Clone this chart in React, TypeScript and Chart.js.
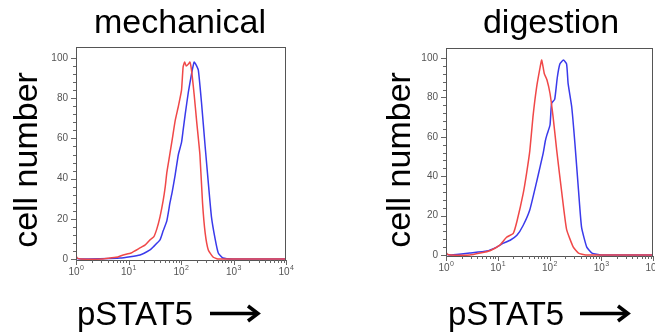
import React, { useEffect, useRef } from "react";
import { Chart, registerables } from "chart.js";

Chart.register(...registerables);

// ---------- data ----------
const X_TICKS = [1, 10, 100, 1000, 10000];
const X_TICK_BASE = "10";
const X_TICK_EXP = ["0", "1", "2", "3", "4"];
const Y_TICKS = [0, 20, 40, 60, 80, 100];

const TITLES = ["mechanical", "digestion"];
const Y_LABEL = "cell number";
const X_LABEL = "pSTAT5";

// exponents (log10 of pSTAT5 intensity) and cell-number values
const mechRedLog = [0, 0.02, 0.1, 0.5, 0.65, 0.8, 0.9, 1.05, 1.22, 1.32, 1.41, 1.48, 1.54, 1.6, 1.66, 1.7, 1.73, 1.78, 1.83, 1.89, 1.95, 2.01, 2.04, 2.07, 2.1, 2.14, 2.17, 2.2, 2.25, 2.3, 2.36, 2.41, 2.46, 2.52, 2.61, 2.7, 3, 4];
const mechRed = [2, 0.5, 0, 0, 0.5, 1, 2, 3, 5.5, 7, 9.5, 11, 15, 21, 29, 36, 43, 51, 59, 69, 76, 84, 95.5, 98, 96, 97, 98, 94, 82, 68, 52, 28, 13, 4.5, 1, 0, 0, 0];

const mechBlueLog = [0, 0.02, 0.1, 0.84, 1.22, 1.41, 1.47, 1.6, 1.66, 1.73, 1.79, 1.83, 1.89, 1.95, 2.01, 2.04, 2.08, 2.14, 2.2, 2.25, 2.28, 2.33, 2.39, 2.46, 2.52, 2.58, 2.65, 2.71, 2.8, 3, 4];
const mechBlue = [1.5, 0.3, 0, 0.5, 2, 4.5, 6, 9.5, 14, 19, 28, 33, 42, 52, 58, 64, 72, 83, 92, 98, 97, 94, 78, 56, 38, 21, 10, 3, 0.5, 0, 0];

const digRedLog = [0, 0.02, 0.1, 0.46, 0.66, 0.85, 1.04, 1.17, 1.3, 1.37, 1.49, 1.56, 1.62, 1.68, 1.75, 1.82, 1.85, 1.9, 1.95, 2.01, 2.07, 2.14, 2.24, 2.33, 2.46, 2.56, 2.7, 3, 4];
const digRed = [1.7, 0.5, 0, 0, 1, 2.2, 5, 9, 11, 17, 31, 42, 53, 70, 85, 95.5, 99, 92, 89, 82, 70, 53, 31, 13, 4, 1, 0, 0, 0];

const digBlueLog = [0, 0.02, 0.1, 0.46, 0.79, 0.98, 1.11, 1.24, 1.37, 1.49, 1.62, 1.75, 1.82, 1.88, 1.92, 1.95, 2.01, 2.04, 2.1, 2.15, 2.2, 2.27, 2.33, 2.36, 2.43, 2.49, 2.56, 2.62, 2.72, 2.82, 3, 4];
const digBlue = [1.5, 0.3, 0, 1, 2, 4, 6, 7.5, 10, 15, 23, 37, 45, 52, 58, 61, 66, 77, 79, 90, 97, 99, 97, 87, 75, 57, 33, 14, 4, 1, 0, 0];

// ---------- styles ----------
const RED = "rgb(240,72,72)";
const BLUE = "rgb(58,58,235)";
const FONT = '"Liberation Sans", Arial, sans-serif';

type Panel = {
  left: number;
  width: number;
  title: string;
  redLog: number[];
  red: number[];
  blueLog: number[];
  blue: number[];
  top: number;
  bottom: number;
  plotLeft: number;
  plotRight: number;
  yMax: number;
  titleX: number;
  yLabelX: number;
  xLabelX: number;
  arrowX1: number;
  arrowX2: number;
};

const PANELS: Panel[] = [
  {
    left: 0, width: 330, title: TITLES[0],
    redLog: mechRedLog, red: mechRed, blueLog: mechBlueLog, blue: mechBlue,
    top: 47, bottom: 260, plotLeft: 76, plotRight: 286, yMax: 105.5,
    titleX: 180, yLabelX: 37, xLabelX: 77, arrowX1: 210, arrowX2: 258,
  },
  {
    left: 330, width: 325, title: TITLES[1],
    redLog: digRedLog, red: digRed, blueLog: digBlueLog, blue: digBlue,
    top: 48, bottom: 256, plotLeft: 116, plotRight: 323, yMax: 105.1,
    titleX: 221, yLabelX: 80, xLabelX: 118, arrowX1: 250, arrowX2: 298,
  },
];

const H = 336;

function decor(p: Panel) {
  return {
    id: "decor-" + p.title,
    afterDraw(chart: any) {
      const ctx = chart.ctx as CanvasRenderingContext2D;
      const a = chart.chartArea;
      const xs = chart.scales.x;
      const ys = chart.scales.y;
      ctx.save();
      // frame
      ctx.strokeStyle = "#555";
      ctx.lineWidth = 1;
      ctx.strokeRect(Math.round(a.left) + 0.5, Math.round(a.top) + 0.5, Math.round(a.right - a.left) - 1, Math.round(a.bottom - a.top));
      // x tick marks (log minor)
      ctx.strokeStyle = "#666";
      ctx.beginPath();
      for (let k = 0; k < 4; k++) {
        for (let m = 1; m <= 9; m++) {
          const v = m * Math.pow(10, k);
          const px = Math.round(xs.getPixelForValue(v)) + 0.5;
          const len = m === 1 ? 5 : 3;
          ctx.moveTo(px, a.bottom);
          ctx.lineTo(px, a.bottom + len);
        }
      }
      const px4 = Math.round(xs.getPixelForValue(10000)) + 0.5;
      ctx.moveTo(px4, a.bottom);
      ctx.lineTo(px4, a.bottom + 5);
      // y tick marks
      for (let v = 0; v <= 100; v += 4) {
        const py = Math.round(ys.getPixelForValue(v)) + 0.5;
        const len = v % 20 === 0 ? 5 : 3;
        ctx.moveTo(a.left, py);
        ctx.lineTo(a.left - len, py);
      }
      ctx.stroke();

      // x tick labels: 10 with superscript exponent
      ctx.fillStyle = "#555";
      ctx.textBaseline = "alphabetic";
      X_TICKS.forEach((v, i) => {
        const cx = xs.getPixelForValue(v);
        ctx.font = `10px ${FONT}`;
        const wb = ctx.measureText(X_TICK_BASE).width;
        ctx.font = `7px ${FONT}`;
        const we = ctx.measureText(X_TICK_EXP[i]).width;
        const x0 = cx - (wb + we) / 2;
        ctx.font = `10px ${FONT}`;
        ctx.textAlign = "left";
        ctx.fillText(X_TICK_BASE, x0, a.bottom + 15);
        ctx.font = `7px ${FONT}`;
        ctx.fillText(X_TICK_EXP[i], x0 + wb + 0.5, a.bottom + 10);
      });

      // texts
      ctx.fillStyle = "#000";
      ctx.textAlign = "center";
      ctx.textBaseline = "alphabetic";
      ctx.font = `34px ${FONT}`;
      ctx.fillText(p.title, p.titleX, 33);

      ctx.save();
      ctx.translate(p.yLabelX, 160);
      ctx.rotate(-Math.PI / 2);
      ctx.font = `34px ${FONT}`;
      ctx.fillText(Y_LABEL, 0, 0);
      ctx.restore();

      ctx.textAlign = "left";
      ctx.font = `33px ${FONT}`;
      ctx.fillText(X_LABEL, p.xLabelX, 325);

      // arrow
      const ay = 313.5;
      ctx.strokeStyle = "#000";
      ctx.lineWidth = 3.5;
      ctx.lineCap = "butt";
      ctx.beginPath();
      ctx.moveTo(p.arrowX1, ay);
      ctx.lineTo(p.arrowX2 - 2, ay);
      ctx.stroke();
      ctx.lineJoin = "miter";
      ctx.beginPath();
      ctx.moveTo(p.arrowX2 - 10, ay - 7.5);
      ctx.lineTo(p.arrowX2, ay);
      ctx.lineTo(p.arrowX2 - 10, ay + 7.5);
      ctx.stroke();
      ctx.restore();
    },
  };
}

function makeChart(canvas: HTMLCanvasElement, p: Panel) {
  const pts = (lx: number[], ys: number[]) => lx.map((l, i) => ({ x: Math.pow(10, l), y: ys[i] }));
  return new Chart(canvas, {
    type: "scatter",
    data: {
      datasets: [
        { data: pts(p.redLog, p.red), borderColor: RED, backgroundColor: RED, showLine: true, pointRadius: 0, borderWidth: 1.5, tension: 0.15 },
        { data: pts(p.blueLog, p.blue), borderColor: BLUE, backgroundColor: BLUE, showLine: true, pointRadius: 0, borderWidth: 1.5, tension: 0.15 },
      ],
    },
    options: {
      responsive: false,
      animation: false,
      devicePixelRatio: 1,
      layout: { padding: { left: 0, top: p.top, right: p.width - p.plotRight, bottom: 0 } },
      plugins: { legend: { display: false }, tooltip: { enabled: false }, title: { display: false } },
      scales: {
        x: {
          type: "logarithmic",
          min: 1,
          max: 10000,
          grid: { display: false, drawTicks: false },
          border: { display: false },
          afterBuildTicks: (s: any) => {
            s.ticks = X_TICKS.map((v) => ({ value: v }));
          },
          afterFit: (s: any) => {
            s.height = H - p.bottom;
            s.paddingLeft = 0;
            s.paddingRight = 0;
          },
          ticks: { display: false },
        },
        y: {
          min: -0.5,
          max: p.yMax,
          grid: { display: false, drawTicks: false },
          border: { display: false },
          afterBuildTicks: (s: any) => {
            s.ticks = Y_TICKS.map((v) => ({ value: v }));
          },
          afterFit: (s: any) => {
            s.width = p.plotLeft;
            s.paddingTop = 0;
            s.paddingBottom = 0;
          },
          ticks: {
            padding: 8,
            color: "#555",
            font: { family: FONT, size: 10 },
            callback: (v: any) => String(v),
          },
        },
      },
    },
    plugins: [decor(p)],
  } as any);
}

function PanelChart({ p }: { p: Panel }) {
  const ref = useRef<HTMLCanvasElement | null>(null);
  useEffect(() => {
    if (!ref.current) return;
    const c = makeChart(ref.current, p);
    return () => c.destroy();
  }, [p]);
  return (
    <canvas
      ref={ref}
      width={p.width}
      height={H}
      style={{ position: "absolute", left: p.left, top: 0, width: p.width, height: H, display: "block" }}
    />
  );
}

export default function App() {
  return (
    <div style={{ position: "absolute", left: 0, top: 0, width: 655, height: H, background: "#fff", overflow: "hidden" }}>
      {PANELS.map((p) => (
        <PanelChart key={p.title} p={p} />
      ))}
    </div>
  );
}
